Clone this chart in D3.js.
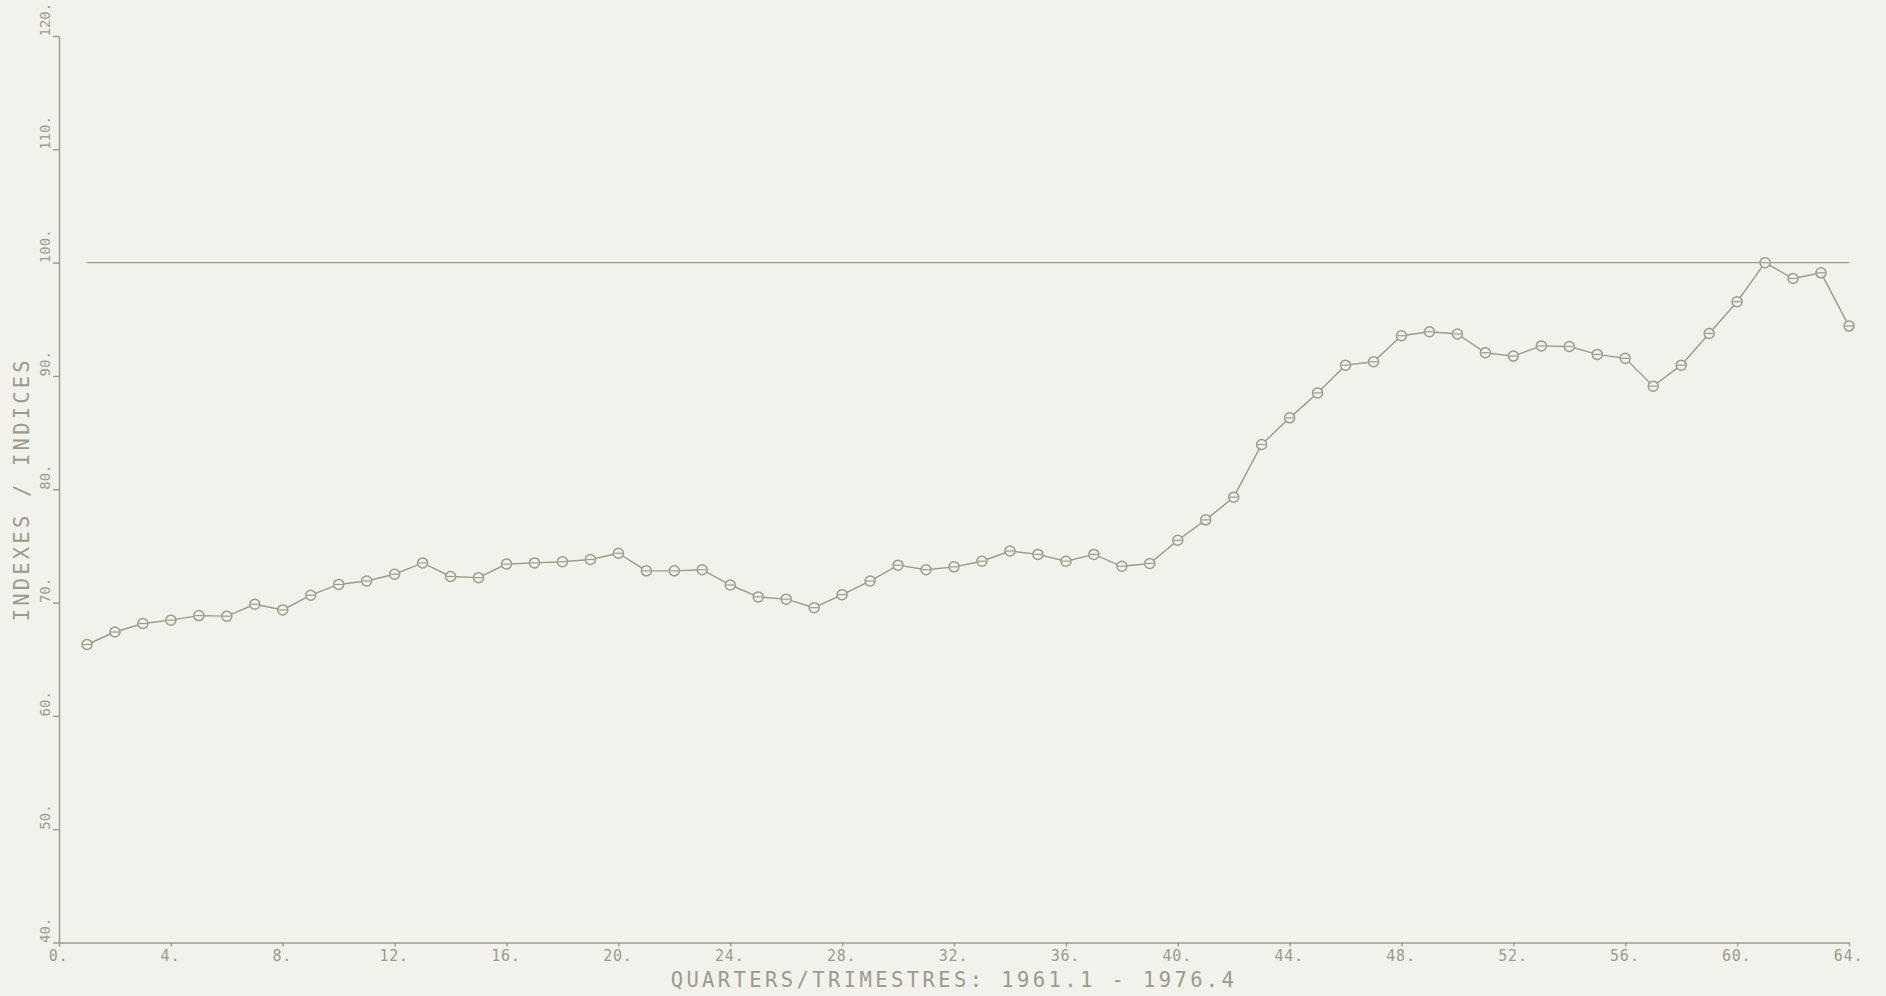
<!DOCTYPE html>
<html>
<head>
<meta charset="utf-8">
<script src="https://cdn.jsdelivr.net/npm/d3@7"></script>
<style>
  html, body { margin: 0; padding: 0; background: #f2f2ec; }
  svg { display: block; }
  text { font-family: "DejaVu Sans Mono", "Liberation Mono", monospace; fill: #9a9c8a; }
  .axis path, .axis line { stroke: #9a9c8a; stroke-width: 1.4; }
</style>
</head>
<body>
<svg id="chart" width="1886" height="996"></svg>
<script>
// quarterly index, 1961.1 - 1976.4 (quarter number 1..64)
const quarters = d3.range(1, 65);
const indexValues = [
  66.3, 67.4, 68.15, 68.45, 68.85, 68.8, 69.85, 69.35,
  70.65, 71.6, 71.9, 72.5, 73.5, 72.3, 72.2, 73.4,
  73.5, 73.6, 73.8, 74.35, 72.8, 72.8, 72.9, 71.55,
  70.5, 70.3, 69.55, 70.7, 71.9, 73.3, 72.9, 73.15,
  73.65, 74.55, 74.25, 73.65, 74.25, 73.2, 73.45, 75.5,
  77.3, 79.3, 83.95, 86.3, 88.5, 90.95, 91.25, 93.55,
  93.9, 93.7, 92.05, 91.75, 92.65, 92.6, 91.9, 91.55,
  89.1, 90.95, 93.75, 96.55, 100.0, 98.6, 99.1, 94.4
];
const baseValue = 100;
const xTicks = d3.range(0, 65, 4);
const yTicks = d3.range(40, 121, 10);
const xTitle = "QUARTERS/TRIMESTRES: 1961.1 - 1976.4";
const yTitle = "INDEXES / INDICES";

const ink = "#9a9c8a";
const paper = "#f2f2ec";
const svg = d3.select("#chart");

const x = d3.scaleLinear().domain([0, 64]).range([59, 1849]);
const y = d3.scaleLinear().domain([40, 120]).range([942.5, 36]);

// axes
let gx = svg.append('g')
    .attr('class', "axis")
    .attr('transform', `translate(0, ${y(40)})`)
    .call(d3.axisBottom(x).tickValues(xTicks).tickSize(4).tickSizeOuter(0)
          .tickFormat((d) => d + "."));
gx.selectAll("text")
    .attr('font-size', 15)
    .attr('letter-spacing', 0.8)
    .attr('y', 8)
    .attr('dx', -1)
    .attr('dy', "0.71em");

// y labels run upward from their tick, so the top one must stay short
let gy = svg.append('g')
    .attr('class', "axis")
    .attr('transform', `translate(${x(0)}, 0)`)
    .call(d3.axisLeft(y).tickValues(yTicks).tickSize(6).tickSizeOuter(0)
          .tickFormat((d) => d + "."));
gy.selectAll("text")
    .attr('font-size', 14)
    .attr('letter-spacing', 0)
    .attr('text-anchor', "start")
    .attr('x', 0).attr('dy', 0)
    .attr('transform', "translate(-9, 0) rotate(-90)");

// axis titles
svg.append('text')
    .attr('x', (x(0) + x(64)) / 2)
    .attr('y', 987)
    .attr('text-anchor', "middle")
    .attr('font-size', 20.5)
    .attr('letter-spacing', 3.4)
    .text(xTitle);

svg.append('text')
    .attr('transform', `translate(29, ${(y(40) + y(120)) / 2}) rotate(-90)`)
    .attr('text-anchor', "middle")
    .attr('font-size', 20.5)
    .attr('letter-spacing', 3.2)
    .text(yTitle);

// reference line at 100
let line = d3.line().x((d) => x(d[0])).y((d) => y(d[1]));
svg.append('path')
    .attr('d', line(quarters.map((q) => [q, baseValue])))
    .attr('fill', "none")
    .attr('stroke', ink)
    .attr('stroke-width', 1.4);

// index series
let points = quarters.map((q, i) => [q, indexValues[i]]);
svg.append('path')
    .attr('d', line(points))
    .attr('fill', "none")
    .attr('stroke', ink)
    .attr('stroke-width', 1.4);

let marks = svg.append('g').selectAll("g").data(points).join('g')
    .attr('transform', (p) => `translate(${x(p[0])}, ${y(p[1])})`);
marks.append('circle')
    .attr('r', 5)
    .attr('fill', paper)
    .attr('stroke', ink)
    .attr('stroke-width', 1.5);
marks.append('line')
    .attr('x1', -4).attr('x2', 4)
    .attr('stroke', ink)
    .attr('stroke-width', 1.2);
</script>
</body>
</html>
